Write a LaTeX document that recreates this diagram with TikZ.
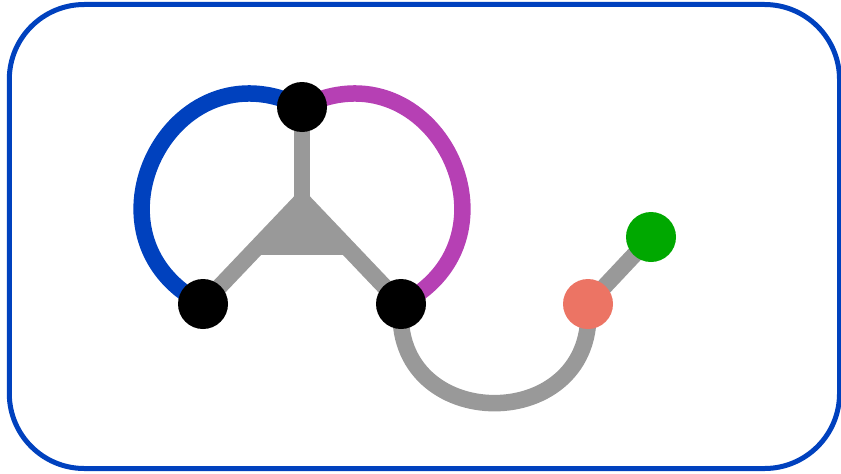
\documentclass[tikz,border=0pt]{standalone}
\usetikzlibrary{calc,backgrounds}
\definecolor{myblue}{RGB}{0,65,190}
\definecolor{mypurple}{RGB}{182,64,180}
\definecolor{mygray}{RGB}{153,153,153}
\definecolor{mysalmon}{RGB}{236,116,100}
\definecolor{mygreen}{RGB}{0,168,0}
\begin{document}
\begin{tikzpicture}[
    dot/.style={circle,fill=black,minimum size=0.5cm,inner sep=0},
    wire/.style={line width=0.165cm,mygray}]

    \useasboundingbox (0,0) rectangle (8.41,4.73);
    \draw[myblue,line width=0.05cm,rounded corners=0.75cm] (0.093,0.045) rectangle (8.395,4.685);

    \node[dot] (v1) at (3.02,3.66) {};
    \node[dot] (v2) at (2.03,1.69) {};
    \node[dot] (v3) at (4.01,1.69) {};
    \node[dot,fill=mysalmon] (v4) at (5.88,1.69) {};
    \node[dot,fill=mygreen] (v5) at (6.51,2.36) {};
    \coordinate (j) at (3.02,2.73);

    \begin{scope}[on background layer]
    \draw[wire] (v1.center) edge (j);
    \draw[wire] (v2.center) edge (j);
    \draw[wire] (v3.center) edge (j);
    \fill[mygray] (j) -- ($(j)!0.527!(v2)$) -- ($(j)!0.527!(v3)$) -- cycle;
    \draw[wire,myblue] (v1.center) edge[out=153,in=153,looseness=1.7] (v2.center);
    \draw[wire,mypurple] (v1.center) edge[out=27,in=27,looseness=1.7] (v3.center);
    \draw[wire] (v3.center) edge[out=-95,in=-85,looseness=1.82] (v4.center);
    \draw[wire] (v4.center) edge (v5.center);
    \end{scope}
\end{tikzpicture}
\end{document}
